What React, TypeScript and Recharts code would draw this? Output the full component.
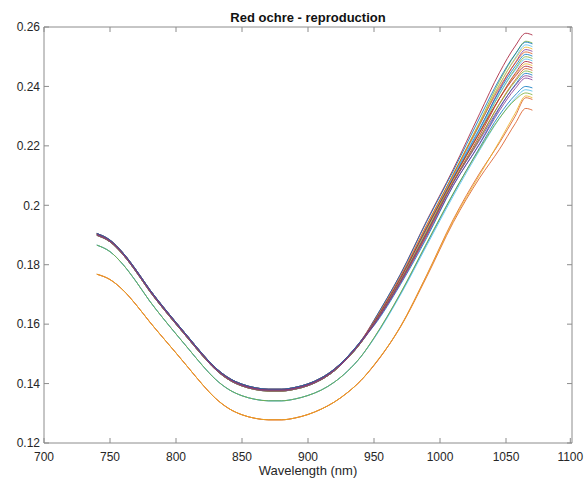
import React from "react";
import { LineChart, Line, XAxis, YAxis } from "recharts";

// wavelength grid (nm): dense overlap part, then the diverging tail
const wavelengthsLow = [740, 750, 760, 770, 780, 790, 800, 810, 820, 830, 840, 850, 860, 870, 880, 890, 900, 910, 920, 930, 940];
const wavelengthsHigh = [950, 970, 990, 1010, 1030, 1045, 1057, 1065, 1070];

const xTicks = [700, 750, 800, 850, 900, 950, 1000, 1050, 1100];
const yTicks = [0.12, 0.14, 0.16, 0.18, 0.2, 0.22, 0.24, 0.26];

// shared shape below 950 nm, three bundles
const aLowHi = [0.1905, 0.1883, 0.1839, 0.1781, 0.1717, 0.166, 0.1606, 0.1553, 0.15, 0.1453, 0.1419, 0.1398, 0.1386, 0.1381, 0.1381, 0.1387, 0.1399, 0.1419, 0.1449, 0.1491, 0.1543];
const aLowMid = [0.1902, 0.188, 0.1836, 0.1778, 0.1714, 0.1657, 0.1603, 0.155, 0.1497, 0.145, 0.1416, 0.1395, 0.1383, 0.1378, 0.1378, 0.1384, 0.1396, 0.1416, 0.1446, 0.1488, 0.154];
const aLowLo = [0.1899, 0.1877, 0.1833, 0.1775, 0.1711, 0.1654, 0.16, 0.1547, 0.1494, 0.1447, 0.1413, 0.1392, 0.138, 0.1375, 0.1375, 0.1381, 0.1393, 0.1413, 0.1443, 0.1485, 0.1537];
const bLow = [0.1866, 0.1844, 0.18, 0.1742, 0.1678, 0.1621, 0.1567, 0.1514, 0.1461, 0.1414, 0.138, 0.1359, 0.1347, 0.1342, 0.1342, 0.1348, 0.136, 0.1378, 0.1405, 0.1442, 0.149];
const cLow = [0.1768, 0.175, 0.1714, 0.1664, 0.1608, 0.1555, 0.1503, 0.145, 0.1397, 0.135, 0.1316, 0.1295, 0.1283, 0.1278, 0.1278, 0.1284, 0.1296, 0.1314, 0.1338, 0.137, 0.141];

// tails, 950 .. 1070 nm
const a01 = [0.1613, 0.1768, 0.1949, 0.2121, 0.2308, 0.2446, 0.2536, 0.2579, 0.2573];
const a02 = [0.1607, 0.1755, 0.1927, 0.2104, 0.228, 0.2417, 0.2508, 0.2552, 0.2546];
const a03 = [0.1613, 0.1767, 0.1946, 0.2115, 0.2294, 0.2424, 0.2509, 0.2549, 0.2543];
const a04 = [0.1604, 0.175, 0.1919, 0.2097, 0.2269, 0.2404, 0.2496, 0.254, 0.2534];
const a05 = [0.1608, 0.1758, 0.1932, 0.2104, 0.2276, 0.2406, 0.2492, 0.2532, 0.2526];
const a06 = [0.1602, 0.1745, 0.191, 0.209, 0.2255, 0.2389, 0.248, 0.2524, 0.2518];
const a07 = [0.1609, 0.176, 0.1935, 0.2103, 0.2272, 0.2396, 0.2478, 0.2516, 0.251];
const a08 = [0.1605, 0.1751, 0.1921, 0.2094, 0.2258, 0.2384, 0.2468, 0.2508, 0.2502];
const a09 = [0.1602, 0.1745, 0.1911, 0.2087, 0.2246, 0.2373, 0.2459, 0.25, 0.2494];
const a10 = [0.1606, 0.1754, 0.1925, 0.2094, 0.2254, 0.2375, 0.2455, 0.2492, 0.2486];
const a11 = [0.1599, 0.1741, 0.1903, 0.2079, 0.2234, 0.2359, 0.2444, 0.2484, 0.2478];
const a12 = [0.1603, 0.1749, 0.1917, 0.2087, 0.2242, 0.236, 0.2439, 0.2476, 0.247];
const a13 = [0.1606, 0.1754, 0.1925, 0.209, 0.2245, 0.2359, 0.2434, 0.2468, 0.2462];
const a14 = [0.1599, 0.1741, 0.1903, 0.2076, 0.2224, 0.2342, 0.2422, 0.246, 0.2454];
const a15 = [0.1601, 0.1744, 0.1909, 0.2078, 0.2226, 0.234, 0.2417, 0.2452, 0.2446];
const a16 = [0.1595, 0.1733, 0.1891, 0.2066, 0.2208, 0.2326, 0.2406, 0.2444, 0.2438];
const a17 = [0.1601, 0.1744, 0.1909, 0.2076, 0.2219, 0.2329, 0.2403, 0.2436, 0.243];
const a18 = [0.1597, 0.1737, 0.1897, 0.2067, 0.2206, 0.2318, 0.2393, 0.2428, 0.2422];
const b01 = [0.1553, 0.1702, 0.1871, 0.2038, 0.2194, 0.2304, 0.2371, 0.24, 0.2395];
const b02 = [0.1551, 0.1698, 0.1865, 0.2031, 0.2185, 0.2292, 0.236, 0.2389, 0.2384];
const b03 = [0.1554, 0.1704, 0.1874, 0.204, 0.219, 0.2293, 0.2355, 0.2378, 0.2372];
const c01 = [0.1462, 0.159, 0.176, 0.1942, 0.2092, 0.2188, 0.2275, 0.2326, 0.232];
const c02 = [0.1461, 0.1592, 0.1766, 0.1952, 0.2108, 0.221, 0.23, 0.2362, 0.2356];
const c03 = [0.1463, 0.1591, 0.1764, 0.1948, 0.2102, 0.2215, 0.231, 0.2368, 0.2362];

const series = [
  { id: "c01", low: cLow, high: c01, color: "#D95319" },
  { id: "c02", low: cLow, high: c02, color: "#D95319" },
  { id: "c03", low: cLow, high: c03, color: "#EDB120" },
  { id: "b01", low: bLow, high: b01, color: "#0072BD" },
  { id: "b02", low: bLow, high: b02, color: "#4DBEEE" },
  { id: "b03", low: bLow, high: b03, color: "#77AC30" },
  { id: "a01", low: aLowHi, high: a01, color: "#A2142F" },
  { id: "a02", low: aLowMid, high: a02, color: "#77AC30" },
  { id: "a03", low: aLowLo, high: a03, color: "#0072BD" },
  { id: "a04", low: aLowHi, high: a04, color: "#4DBEEE" },
  { id: "a05", low: aLowMid, high: a05, color: "#EDB120" },
  { id: "a06", low: aLowLo, high: a06, color: "#7E2F8E" },
  { id: "a07", low: aLowHi, high: a07, color: "#D95319" },
  { id: "a08", low: aLowMid, high: a08, color: "#0072BD" },
  { id: "a09", low: aLowLo, high: a09, color: "#77AC30" },
  { id: "a10", low: aLowHi, high: a10, color: "#4DBEEE" },
  { id: "a11", low: aLowMid, high: a11, color: "#A2142F" },
  { id: "a12", low: aLowLo, high: a12, color: "#EDB120" },
  { id: "a13", low: aLowHi, high: a13, color: "#A2142F" },
  { id: "a14", low: aLowMid, high: a14, color: "#D95319" },
  { id: "a15", low: aLowLo, high: a15, color: "#77AC30" },
  { id: "a16", low: aLowHi, high: a16, color: "#0072BD" },
  { id: "a17", low: aLowMid, high: a17, color: "#7E2F8E" },
  { id: "a18", low: aLowLo, high: a18, color: "#7E2F8E" },
];

const wavelengths = [...wavelengthsLow, ...wavelengthsHigh];
const rows = wavelengths.map((w, i) => {
  const row: Record<string, number> = { w };
  series.forEach((s) => {
    row[s.id] = i < wavelengthsLow.length ? s.low[i] : s.high[i - wavelengthsLow.length];
  });
  return row;
});

const AXIS = "#8c8c8c";
const TEXT = "#262626";
const FONT = "'Liberation Sans', Arial, Helvetica, sans-serif";
const TICK_LEN = 5;
const X_GAP = 9;
const Y_GAP = 4;

const fmtY = (v: number) => String(Number(v.toFixed(2)));

const BottomTick = ({ x, y, payload }: any) => (
  <g>
    <line x1={x} x2={x} y1={y - X_GAP} y2={y - X_GAP - TICK_LEN} stroke={AXIS} />
    <text x={x} y={y} dy="0.71em" textAnchor="middle" fontSize={12} fill={TEXT} fontFamily={FONT}>
      {payload.value}
    </text>
  </g>
);

const LeftTick = ({ x, y, payload }: any) => (
  <g>
    <line x1={x + Y_GAP} x2={x + Y_GAP + TICK_LEN} y1={y} y2={y} stroke={AXIS} />
    <text x={x} y={y} dy="0.355em" textAnchor="end" fontSize={12} fill={TEXT} fontFamily={FONT}>
      {fmtY(payload.value)}
    </text>
  </g>
);

const TopTick = ({ x, y }: any) => <line x1={x} x2={x} y1={y} y2={y + TICK_LEN} stroke={AXIS} />;
const RightTick = ({ x, y }: any) => <line x1={x} x2={x - TICK_LEN} y1={y} y2={y} stroke={AXIS} />;

export default function App() {
  return (
    <div style={{ position: "relative", width: 586, height: 481, background: "#fff", fontFamily: FONT }}>
      <style>{"body{margin:0}"}</style>
      <div
        style={{
          position: "absolute",
          left: 44,
          width: 528,
          top: 10,
          textAlign: "center",
          fontSize: 13,
          lineHeight: "15px",
          fontWeight: "bold",
          color: "#111",
        }}
      >
        Red ochre - reproduction
      </div>
      <LineChart width={586} height={481} data={rows} margin={{ top: 26, right: 13, bottom: 0, left: 0 }}>
        <XAxis
          xAxisId="bottom"
          dataKey="w"
          type="number"
          domain={[700, 1100]}
          ticks={xTicks}
          allowDataOverflow
          height={38}
          tickSize={0}
          tickMargin={X_GAP}
          tickLine={false}
          axisLine={{ stroke: AXIS }}
          tick={<BottomTick />}
          label={{ value: "Wavelength (nm)", position: "insideBottom", offset: 6, fontSize: 13, fill: TEXT, fontFamily: FONT }}
        />
        <XAxis
          xAxisId="top"
          orientation="top"
          dataKey="w"
          type="number"
          domain={[700, 1100]}
          ticks={xTicks}
          allowDataOverflow
          height={1}
          tickSize={0}
          tickMargin={0}
          tickLine={false}
          axisLine={{ stroke: AXIS }}
          tick={<TopTick />}
        />
        <YAxis
          yAxisId="left"
          type="number"
          domain={[0.12, 0.26]}
          ticks={yTicks}
          allowDataOverflow
          width={44}
          tickSize={0}
          tickMargin={Y_GAP}
          tickLine={false}
          axisLine={{ stroke: AXIS }}
          tick={<LeftTick />}
        />
        <YAxis
          yAxisId="right"
          orientation="right"
          type="number"
          domain={[0.12, 0.26]}
          ticks={yTicks}
          allowDataOverflow
          width={1}
          tickSize={0}
          tickMargin={0}
          tickLine={false}
          axisLine={{ stroke: AXIS }}
          tick={<RightTick />}
        />
        {series.map((s) => (
          <Line
            key={s.id}
            xAxisId="bottom"
            yAxisId="left"
            dataKey={s.id}
            type="monotone"
            stroke={s.color}
            strokeWidth={1}
            strokeOpacity={0.8}
            dot={false}
            activeDot={false}
            isAnimationActive={false}
          />
        ))}
      </LineChart>
    </div>
  );
}
